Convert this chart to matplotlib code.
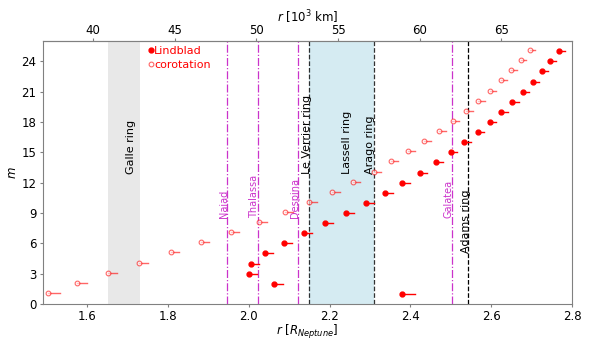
import numpy as np
import matplotlib
matplotlib.use("Agg")
import matplotlib.pyplot as plt

R_N = 24.764  # Neptune radius in 10^3 km

# resonance locations in R_Neptune
m_vals = np.arange(1, 26)
r_lindblad = [2.380, 2.0625, 2.000, 2.0057, 2.040, 2.0864, 2.1365, 2.1884, 2.240, 2.2896,
              2.337, 2.380, 2.424, 2.462, 2.499, 2.533, 2.566, 2.596, 2.625, 2.652,
              2.677, 2.702, 2.725, 2.746, 2.767]
r_corot = [1.503, 1.576, 1.653, 1.729, 1.807, 1.883, 1.956, 2.025, 2.090, 2.150,
           2.2065, 2.2575, 2.309, 2.352, 2.394, 2.434, 2.471, 2.505, 2.538, 2.568,
           2.596, 2.623, 2.6485, 2.672, 2.695]
# extent of the short bar to the right of each point
dr_lindblad = [0.030, 0.023, 0.021, 0.021, 0.021, 0.020, 0.020, 0.020, 0.020, 0.020,
               0.019, 0.018, 0.018, 0.018, 0.017, 0.017, 0.016, 0.016, 0.016, 0.016,
               0.015, 0.015, 0.015, 0.014, 0.014]
dr_corot = [0.031, 0.024, 0.021, 0.022, 0.020, 0.020, 0.020, 0.020, 0.020, 0.019,
            0.019, 0.018, 0.018, 0.018, 0.017, 0.017, 0.016, 0.016, 0.016, 0.016,
            0.015, 0.015, 0.015, 0.014, 0.014]

# rings (10^3 km)
galle = (40.9, 42.9)
lassell = (53.2, 57.2)
le_verrier = 53.2
arago = 57.2
adams = 62.932

# moons (10^3 km)
moon_names = ["Naiad", "Thalassa", "Despina", "Galatea"]
moon_r = [48.227, 50.074, 52.526, 61.953]

fig = plt.figure(figsize=(5.98, 3.42), dpi=100)
ax = fig.add_axes([0.0714, 0.111, 0.8856, 0.769])

ax.axvspan(galle[0] / R_N, galle[1] / R_N, color="lightgray", alpha=0.5, lw=0)
ax.axvspan(lassell[0] / R_N, lassell[1] / R_N, color="lightblue", alpha=0.5, lw=0)
for rr in [le_verrier, arago, adams]:
    ax.axvline(rr / R_N, color="k", ls="--", lw=0.9, alpha=0.8 if rr != adams else 1)

for name, rr in zip(moon_names, moon_r):
    ax.axvline(rr / R_N, color="m", ls="-.", lw=0.9, alpha=0.8)
    ax.text(rr / R_N - 0.0075, 8.5, name, rotation=90, color="m", fontsize=7,
            ha="center", va="bottom", alpha=0.8)

ax.text(1.709, 12.9, "Galle ring", rotation=90, fontsize=8, ha="center", va="bottom")
ax.text(2.145, 12.9, "Le Verrier ring", rotation=90, fontsize=8, ha="center", va="bottom")
ax.text(2.244, 12.9, "Lassell ring", rotation=90, fontsize=8, ha="center", va="bottom")
ax.text(2.299, 12.9, "Arago ring", rotation=90, fontsize=8, ha="center", va="bottom")
ax.text(2.537, 5.05, "Adams ring", rotation=90, fontsize=8, ha="center", va="bottom")

for m, r, d in zip(m_vals, r_lindblad, dr_lindblad):
    ax.plot([r, r + d], [m, m], color="red", lw=1)
for m, r, d in zip(m_vals, r_corot, dr_corot):
    ax.plot([r, r + d], [m + 0.1, m + 0.1], color="red", lw=1, alpha=0.6)

ax.plot(r_lindblad, m_vals, "o", color="red", ms=3.5, label="Lindblad")
ax.plot(r_corot, m_vals + 0.1, "o", mfc="white", mec="red", ms=3.4, mew=0.8,
        alpha=0.6, label="corotation")

ax.set_xlim(1.491, 2.8)
ax.set_ylim(0, 26)
ax.set_yticks(np.arange(0, 25, 3))
ax.set_xticks([1.6, 1.8, 2.0, 2.2, 2.4, 2.6, 2.8])
ax.tick_params(labelsize=8.5, length=2.5, color="0.5", pad=2)
ax.set_xlabel("$r$ [$R_{Neptune}$]", fontsize=8.5, labelpad=0)
ax.set_ylabel("$m$", fontsize=8.5, labelpad=2)
for s in ax.spines.values():
    s.set_color("0.5")

top = ax.secondary_xaxis("top", functions=(lambda x: x * R_N, lambda x: x / R_N))
top.set_xticks([40, 45, 50, 55, 60, 65])
top.tick_params(labelsize=8.5, length=2, color="0.5", pad=1)
top.set_xlabel("$r$ [$10^3$ km]", fontsize=8.5, labelpad=1)
top.spines["top"].set_color("0.5")

leg = ax.legend(loc="upper left", bbox_to_anchor=(0.185, 1.01), frameon=False,
                fontsize=8, labelcolor="red", handlelength=0.4, handletextpad=0.1,
                borderpad=0.2, labelspacing=0.3)

fig.savefig("out.png", dpi=100)
